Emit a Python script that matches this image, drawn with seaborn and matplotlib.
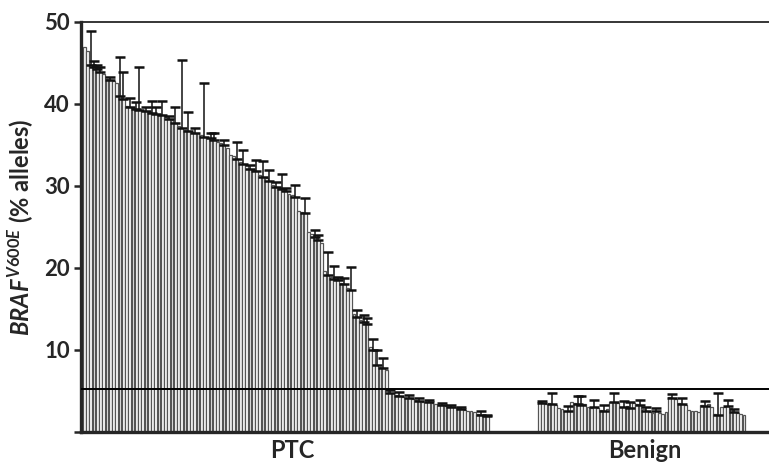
import numpy as np
import pandas as pd
import matplotlib
matplotlib.use("Agg")
import matplotlib.pyplot as plt
import seaborn as sns

# BRAF V600E allele percentages (sorted, one bar per sample)
ptc_values = [
    47.0, 46.5,
    44.7, 44.5, 44.3,
    43.9, 43.6,
    43.0, 42.9, 42.8, 42.6,
    41.0, 40.6,
    39.8, 39.6, 39.5, 39.4,
    39.3, 39.2, 39.1, 39.0, 38.9, 38.8,
    38.7, 38.6, 38.4, 38.2,
    38.0, 37.7,
    37.3, 37.1,
    36.8, 36.7, 36.6, 36.5, 36.4, 36.2,
    36.0, 35.9, 35.8, 35.6, 35.4,
    35.2, 35.0, 34.6,
    33.8, 33.6, 33.3,
    32.9, 32.7, 32.6,
    32.1, 32.0, 31.8,
    31.3, 31.1, 31.0, 30.6,
    30.1, 29.9, 29.8, 29.6, 29.4,
    29.0, 28.9, 28.7,
    27.0, 26.8, 26.7,
    24.4, 24.1, 23.8, 23.4, 23.0,
    19.6, 19.2, 18.9, 18.7, 18.5,
    18.2, 18.0, 17.6, 17.3,
    14.4, 14.0, 13.7, 13.4, 13.2,
    10.4, 10.0,
    8.2, 7.9, 7.8, 7.6,
    4.8, 4.7, 4.5, 4.4, 4.3, 4.2, 4.1,
    4.0, 3.9, 3.8, 3.7, 3.7, 3.6,
    3.5, 3.4, 3.3, 3.3, 3.2, 3.1, 3.0, 3.0,
    2.9, 2.8, 2.7, 2.6, 2.5, 2.4,
    2.2, 2.1, 2.0, 1.9,
]
benign_values = [
    3.6, 3.5, 3.4,
    3.5, 3.4, 3.3,
    2.9, 2.8,
    2.5, 2.6,
    3.6,
    3.5, 3.4, 3.3, 3.4,
    3.0, 2.9, 3.1, 2.9,
    2.7, 2.6, 2.8,
    3.6, 3.7, 3.5,
    3.1, 3.0, 3.2, 2.9,
    3.5, 3.4, 3.3,
    2.8, 2.6, 2.4, 2.3, 2.5, 2.3, 2.2, 2.4,
    4.3, 4.2, 4.0,
    3.5, 3.4, 3.3,
    2.7, 2.5, 2.6, 2.4,
    3.3, 3.2, 3.4, 3.1,
    2.2, 2.1,
    3.1, 3.0, 3.2, 2.9,
    2.4, 2.3, 2.2, 2.1,
]

# upper error (SD) for the samples that show one: sample index -> error
ptc_err_idx = [2, 3, 4, 5, 8, 11, 12, 14, 16, 17, 19, 21, 22, 24, 26, 28, 30, 32,
               34, 37, 39, 40, 43, 47, 49, 51, 53, 55, 57, 59, 61, 62, 65, 68, 71,
               72, 75, 77, 78, 80, 82, 84, 86, 87, 89, 90, 92, 94, 97, 100, 103,
               106, 110, 113, 116, 122, 124]
ptc_err_val = [4.2, 0.7, 0.5, 0.6, 0.4, 4.7, 3.3, 1.1, 0.8, 5.2, 0.5, 1.5, 0.8, 1.7,
               0.3, 1.9, 8.3, 2.3, 0.6, 6.6, 0.6, 0.8, 0.6, 2.1, 1.7, 0.5, 1.4, 1.9,
               1.3, 0.6, 1.9, 0.4, 1.4, 1.8, 0.8, 0.6, 2.8, 1.5, 0.4, 0.8, 2.8, 0.9,
               0.9, 0.7, 1.3, 1.8, 1.2, 0.3, 0.5, 0.4, 0.4, 0.3, 0.2, 0.3, 0.2, 0.4,
               0.2]
benign_err_idx = [1, 4, 9, 12, 13, 17, 20, 23, 26, 28, 31, 33, 36, 41, 44, 51, 55, 58, 60]
benign_err_val = [0.3, 1.3, 0.6, 1.0, 1.1, 0.8, 0.7, 1.0, 0.8, 0.7, 0.6, 0.5, 0.4,
                  0.4, 0.7, 0.6, 2.7, 0.7, 0.4]

cutoff = 5.2
group_labels = ["PTC", "Benign"]
gap = 15  # empty slots between the two groups

# build table
n_ptc, n_ben = len(ptc_values), len(benign_values)
ptc_pos = np.arange(n_ptc)
ben_pos = n_ptc + gap + np.arange(n_ben)
ptc_err = np.zeros(n_ptc)
ptc_err[ptc_err_idx] = ptc_err_val
ben_err = np.zeros(n_ben)
ben_err[benign_err_idx] = benign_err_val

df = pd.DataFrame({
    "pos": np.concatenate([ptc_pos, ben_pos]),
    "value": ptc_values + benign_values,
    "err": np.concatenate([ptc_err, ben_err]),
    "group": ["PTC"] * n_ptc + ["Benign"] * n_ben,
})

sns.set_style("ticks")
plt.rcParams["font.family"] = ["Lato", "DejaVu Sans"]
plt.rcParams["mathtext.fontset"] = "custom"
plt.rcParams["mathtext.it"] = "Lato:italic:bold"
plt.rcParams["mathtext.rm"] = "Lato:bold"

fig = plt.figure(figsize=(7.69, 4.67), dpi=100)
ax = fig.add_axes([0.1053, 0.075, 0.8947, 0.878])

sns.barplot(data=df, x="pos", y="value", native_scale=True, color="white",
            saturation=1, edgecolor="#555555", linewidth=0.9, width=0.8,
            errorbar=None, ax=ax)

# error bars on top of the seaborn bars (upper side only)
bars = sorted(ax.patches, key=lambda p: p.get_x())
xc = np.array([p.get_x() + p.get_width() / 2 for p in bars])
yv = np.array([p.get_height() for p in bars])
err = df.sort_values("pos")["err"].to_numpy()
has = err > 0
ax.errorbar(xc[has], yv[has], yerr=[np.zeros(has.sum()), err[has]], fmt="none",
            ecolor="#111111", elinewidth=1.1, capsize=3.4, capthick=1.8, zorder=3)

ax.axhline(cutoff, color="black", lw=1.4, zorder=4)

ax.set_xlim(-1.0, 210.7)
ax.set_ylim(0, 50)
ax.set_yticks([0, 10, 20, 30, 40, 50])
ax.set_yticklabels(["", "10", "20", "30", "40", "50"], fontsize=16, fontweight="bold")
ax.set_xticks([ptc_pos.mean() + 2, ben_pos.mean() + 1])
ax.set_xticklabels(group_labels, fontsize=17, fontweight="bold")
ax.tick_params(axis="x", length=0, pad=5)
ax.tick_params(axis="y", length=5, width=1.8, direction="out", pad=3)
ax.set_xlabel("")
ax.set_ylabel(r"$\mathit{BRAF}^{\mathit{V600E}}$ (% alleles)", fontsize=17,
              fontweight="bold", labelpad=6)

for s in ["left", "bottom"]:
    ax.spines[s].set_linewidth(2.4)
ax.spines["top"].set_linewidth(1.3)
ax.spines["right"].set_visible(False)

fig.savefig("out.png", dpi=100)
